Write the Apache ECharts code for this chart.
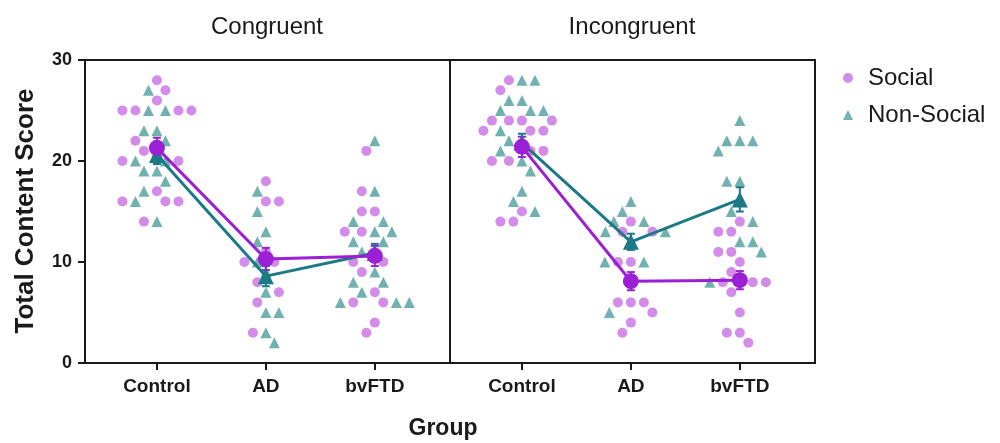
<!DOCTYPE html>
<html>
<head>
<meta charset="utf-8">
<script src="https://cdn.jsdelivr.net/npm/echarts@6/dist/echarts.min.js"></script>
<style>
html,body{margin:0;padding:0;background:#fff;}
#chart{width:1000px;height:443px;}
</style>
</head>
<body>
<div id="chart"></div>
<script>
// ---------- data ----------
const categories = ['Control', 'AD', 'bvFTD'];
const panelTitles = ['Congruent', 'Incongruent'];
const yTicks = [0, 10, 20, 30];

// individual scores, one array per group (Control, AD, bvFTD)
const congSocial = [
  [28, 27, 26, 25, 25, 25, 25, 22, 21, 20, 20, 17, 16, 16, 16, 14],
  [18, 16, 16, 11, 10, 10, 8, 7, 6, 3],
  [21, 17, 15, 15, 13, 13, 11, 10, 10, 9, 7, 6, 6, 4, 3]
];
const congNonSocial = [
  [27, 25, 25, 23, 23, 22, 21, 20, 20, 19, 19, 18, 17, 16, 14],
  [17, 15, 13, 12, 10, 9, 7, 5, 5, 3, 2],
  [22, 17, 14, 14, 13, 13, 12, 12, 11, 9, 8, 8, 7, 6, 6, 6]
];
const incongSocial = [
  [28, 27, 24, 24, 24, 24, 23, 23, 23, 21, 21, 20, 20, 15, 14, 14],
  [14, 13, 13, 10, 10, 8, 6, 6, 6, 5, 4, 3],
  [14, 13, 13, 11, 11, 10, 9, 8, 8, 8, 8, 7, 5, 3, 3, 2]
];
const incongNonSocial = [
  [28, 28, 26, 26, 25, 25, 25, 23, 22, 22, 21, 20, 19, 17, 16, 15],
  [16, 15, 14, 14, 13, 13, 12, 10, 10, 5],
  [24, 22, 22, 22, 21, 18, 18, 16, 15, 14, 12, 12, 11, 8]
];

// group means and SEM
const congSocialMean = [21.3, 10.3, 10.6];
const congSocialSem = [1.0, 1.1, 1.0];
const congNonSocialMean = [20.6, 8.6, 10.9];
const congNonSocialSem = [0.9, 1.0, 0.9];
const incongSocialMean = [21.4, 8.1, 8.2];
const incongSocialSem = [1.0, 0.9, 0.9];
const incongNonSocialMean = [21.8, 12.0, 16.2];
const incongNonSocialSem = [0.9, 0.8, 1.2];

// ---------- styles ----------
const C = {
  socialPt: '#cf7fe8',
  nonPt: '#62aaa8',
  socialMean: '#9b1fd4',
  nonMean: '#1b7a86',
  ink: '#1a1a1a'
};
const FONT = 'Liberation Sans, Arial, Helvetica, sans-serif';

// layout of each panel (pixels)
const PLOT_W = 365, PLOT_H = 303, X_MIN = 0.34, X_MAX = 3.69, Y_MAX = 30;
const PX_PER_X = PLOT_W / (X_MAX - X_MIN);
const PX_PER_Y = PLOT_H / Y_MAX;

// beeswarm layout: each point takes the position closest to the group
// centre that does not overlap the points already placed
function swarm(socialVals, nonVals, catIdx, minDist) {
  const pts = [];
  const nS = socialVals.length, nN = nonVals.length;
  for (let i = 0; i < Math.max(nS, nN); i++) {
    if (i < nN) pts.push({ v: nonVals[i], k: 'n' });
    if (i < nS) pts.push({ v: socialVals[i], k: 's' });
  }
  pts.sort((a, b) => b.v - a.v);
  const placed = [];
  const out = { s: [], n: [] };
  pts.forEach(p => {
    const py = p.v * PX_PER_Y;
    let best = 0;
    for (let k = 0; k < 400; k++) {
      const cand = (k % 2 === 0 ? 1 : -1) * Math.ceil(k / 2) * 0.5;
      const ok = placed.every(q => {
        const dx = q.x - cand, dy = q.y - py;
        return dx * dx + dy * dy >= minDist * minDist;
      });
      if (ok) { best = cand; break; }
    }
    placed.push({ x: best, y: py });
    out[p.k].push([catIdx + 1 + best / PX_PER_X, p.v]);
  });
  return out;
}

const panels = [
  { social: congSocial, non: congNonSocial, sm: congSocialMean, ss: congSocialSem, nm: congNonSocialMean, ns: congNonSocialSem },
  { social: incongSocial, non: incongNonSocial, sm: incongSocialMean, ss: incongSocialSem, nm: incongNonSocialMean, ns: incongNonSocialSem }
];

const grids = [
  { left: 85, right: 550, top: 60, bottom: 80, show: true, borderColor: C.ink, borderWidth: 2 },
  { left: 450, right: 185, top: 60, bottom: 80, show: true, borderColor: C.ink, borderWidth: 2 }
];

const xAxes = grids.map((g, i) => ({
  type: 'value', gridIndex: i, min: X_MIN, max: X_MAX,
  splitLine: { show: false },
  axisLine: { show: true, onZero: false, lineStyle: { color: C.ink, width: 2 } },
  axisTick: { show: true, customValues: [1, 2, 3], length: 7, lineStyle: { color: C.ink, width: 2 } },
  axisLabel: {
    show: true, customValues: [1, 2, 3], margin: 14,
    formatter: v => categories[Math.round(v) - 1] || '',
    color: C.ink, fontWeight: 'bold', fontSize: 19, fontFamily: FONT
  }
}));

const yAxes = grids.map((g, i) => ({
  type: 'value', gridIndex: i, min: 0, max: Y_MAX, interval: 10,
  splitLine: { show: false },
  axisLine: { show: true, lineStyle: { color: C.ink, width: 2 } },
  axisTick: { show: i === 0, length: 7, lineStyle: { color: C.ink, width: 2 } },
  axisLabel: {
    show: i === 0, margin: 13, color: C.ink, fontWeight: 'bold', fontSize: 18, fontFamily: FONT,
    customValues: yTicks
  }
}));

const series = [];
const MIN_DIST = 13;

panels.forEach((p, pi) => {
  const socialPts = [], nonPts = [];
  categories.forEach((c, ci) => {
    const sw = swarm(p.social[ci], p.non[ci], ci, MIN_DIST);
    socialPts.push(...sw.s);
    nonPts.push(...sw.n);
  });
  series.push({
    name: 'Social', type: 'scatter', xAxisIndex: pi, yAxisIndex: pi,
    symbol: 'circle', symbolSize: 10, data: socialPts,
    itemStyle: { color: C.socialPt, opacity: 0.9 }, z: 2
  });
  series.push({
    name: 'Non-Social', type: 'scatter', xAxisIndex: pi, yAxisIndex: pi,
    symbol: 'triangle', symbolSize: 11, data: nonPts,
    itemStyle: { color: C.nonPt, opacity: 0.9 }, z: 2
  });

  const errSeries = (means, sems, color) => ({
    name: 'err', type: 'custom', xAxisIndex: pi, yAxisIndex: pi, z: 4,
    data: means.map((m, i) => [i + 1, m - sems[i], m + sems[i]]),
    renderItem: (params, api) => {
      const top = api.coord([api.value(0), api.value(2)]);
      const bot = api.coord([api.value(0), api.value(1)]);
      const w = 4;
      const st = { stroke: color, lineWidth: 2 };
      return {
        type: 'group', children: [
          { type: 'line', shape: { x1: top[0], y1: top[1], x2: bot[0], y2: bot[1] }, style: st },
          { type: 'line', shape: { x1: top[0] - w, y1: top[1], x2: top[0] + w, y2: top[1] }, style: st },
          { type: 'line', shape: { x1: bot[0] - w, y1: bot[1], x2: bot[0] + w, y2: bot[1] }, style: st }
        ]
      };
    }
  });

  series.push({
    name: 'Non-Social mean', type: 'line', xAxisIndex: pi, yAxisIndex: pi, z: 5,
    data: p.nm.map((m, i) => [i + 1, m]),
    symbol: 'triangle', symbolSize: 16, showSymbol: true,
    lineStyle: { color: C.nonMean, width: 3 },
    itemStyle: { color: C.nonMean }
  });
  series.push(errSeries(p.nm, p.ns, C.nonMean));
  series.push({
    name: 'Social mean', type: 'line', xAxisIndex: pi, yAxisIndex: pi, z: 6,
    data: p.sm.map((m, i) => [i + 1, m]),
    symbol: 'circle', symbolSize: 16, showSymbol: true,
    lineStyle: { color: C.socialMean, width: 3 },
    itemStyle: { color: C.socialMean }
  });
  series.push(errSeries(p.sm, p.ss, C.socialMean));
});

const option = {
  backgroundColor: '#fff',
  animation: false,
  grid: grids,
  xAxis: xAxes,
  yAxis: yAxes,
  legend: {
    data: ['Social', 'Non-Social'],
    orient: 'vertical', left: 838, top: 61,
    itemWidth: 10, itemHeight: 10, itemGap: 13,
    textStyle: { fontSize: 24, color: C.ink, fontFamily: FONT, lineHeight: 24, padding: [0, 0, 0, 10] }
  },
  graphic: [
    { type: 'text', x: 267, y: 27, style: { text: panelTitles[0], textAlign: 'center', textVerticalAlign: 'middle', font: '24px ' + FONT, fill: C.ink } },
    { type: 'text', x: 632, y: 27, style: { text: panelTitles[1], textAlign: 'center', textVerticalAlign: 'middle', font: '24px ' + FONT, fill: C.ink } },
    { type: 'text', x: 26, y: 211, rotation: Math.PI / 2, style: { text: 'Total Content Score', textAlign: 'center', textVerticalAlign: 'middle', font: 'bold 26px ' + FONT, fill: C.ink } },
    { type: 'text', x: 443, y: 429, style: { text: 'Group', textAlign: 'center', textVerticalAlign: 'middle', font: 'bold 23px ' + FONT, fill: C.ink } }
  ],
  series: series
};

const chart = echarts.init(document.getElementById('chart'), null, { renderer: 'canvas' });
chart.setOption(option);
</script>
</body>
</html>
